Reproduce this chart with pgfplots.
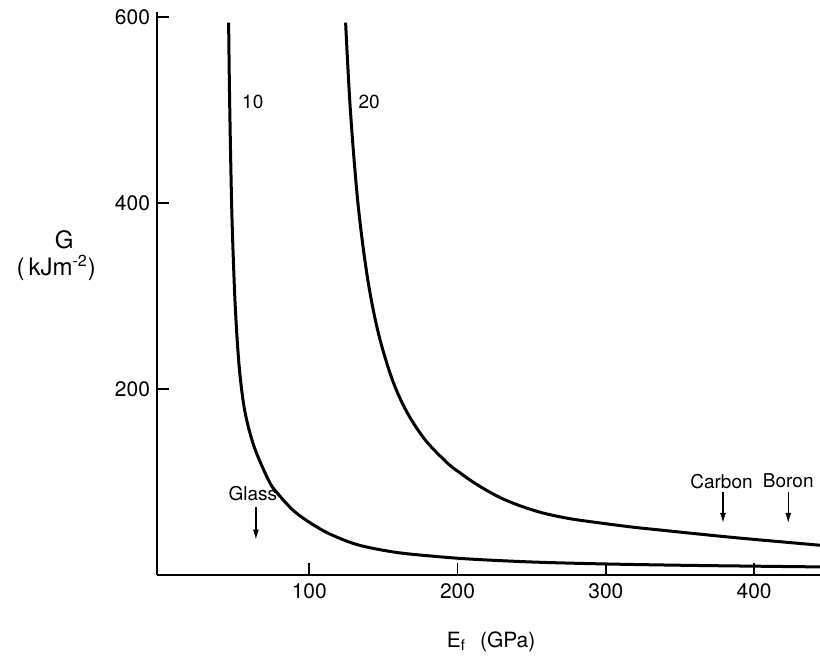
\documentclass[border=0pt]{standalone}
\usepackage{fontspec}
\setmainfont{TeX Gyre Heros}
\usepackage{pgfplots}
\pgfplotsset{compat=1.18}
\usetikzlibrary{arrows.meta}

\begin{document}
\begin{tikzpicture}[x=1pt,y=1pt]
\useasboundingbox (0,0) rectangle (410,327.5);
\begin{axis}[
    at={(78.5pt,40pt)}, anchor=south west,
    scale only axis, width=331.5pt, height=281.5pt,
    xmin=-2.7, xmax=444.4, ymin=0, ymax=605.4,
    axis lines=left,
    axis line style={-, line width=0.8pt},
    xtick={100,200,300,400}, ytick={200,400,600},
    tick align=inside, major tick length=6pt,
    tick style={line width=0.8pt, black},
    /pgf/number format/assume math mode=true,
    tick label style={font=\fontsize{10.5}{12}\selectfont},
    xticklabel style={yshift=-1pt},
    clip=false,
]

% curve labelled 10
\addplot[black, line width=1.5pt, smooth, tension=0.55] coordinates {
    (45.6,594) (46.3,508) (47.7,394) (49.3,317) (50.3,282) (51.7,245)
    (53.6,210) (56.8,174) (62.8,138) (72.5,102) (78.5,88) (91,67)
    (109,48) (126,36) (139,30) (160,24) (185,20) (210,17) (250,14)
    (296,12) (350,10.5) (400,9.5) (444.4,8.7)
};

% curve labelled 20
\addplot[black, line width=1.5pt, smooth, tension=0.55] coordinates {
    (124.5,594) (127.7,500) (132.8,400) (139.2,320) (146.6,260)
    (156,210) (165.9,175) (178.3,145) (193.4,120) (201.5,110)
    (209,101.5) (218,92.5) (229,83) (242,74.5) (258,66.5) (276,60.5)
    (296,56) (318,51.5) (340,47.8) (363,44) (385,40.5) (409,37)
    (444.4,32)
};

\node[font=\fontsize{9.5}{10}\selectfont, anchor=west] at (axis cs:50,509) {10};
\node[font=\fontsize{9.5}{10}\selectfont, anchor=west] at (axis cs:128.5,509) {20};

\node[font=\fontsize{9.5}{10}\selectfont] at (axis cs:62,88) {Glass};
\draw[-{Latex[length=5pt,width=3pt]}, line width=0.6pt] (axis cs:64,73) -- (axis cs:64,38);
\node[font=\fontsize{9.5}{10}\selectfont] at (axis cs:378,101) {Carbon};
\draw[-{Latex[length=5pt,width=3pt]}, line width=0.6pt] (axis cs:379,89) -- (axis cs:379,56);
\node[font=\fontsize{9.5}{10}\selectfont] at (axis cs:423,101) {Boron};
\draw[-{Latex[length=5pt,width=3pt]}, line width=0.6pt] (axis cs:423,89) -- (axis cs:423,56);

\node[font=\fontsize{12}{13}\selectfont] at (rel axis cs:-0.14,0.595) {G};
\node[font=\fontsize{12}{13}\selectfont] at (rel axis cs:-0.152,0.546) {(\,kJm\textsuperscript{-2})};
\node[font=\fontsize{10.5}{12}\selectfont, anchor=base] at (rel axis cs:0.504,0) [yshift=-36pt] {E\textsubscript{f}\hspace{7pt}(GPa)};

\end{axis}
\end{tikzpicture}
\end{document}
